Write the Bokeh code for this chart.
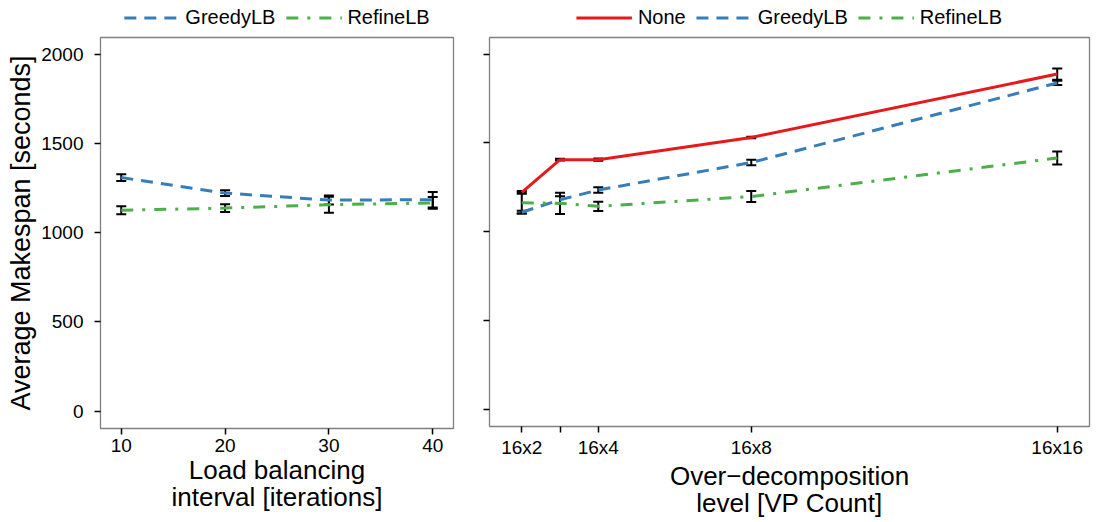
from bokeh.plotting import figure
from bokeh.layouts import row, column
from bokeh.models import (Whisker, TeeHead, ColumnDataSource, Legend, LegendItem,
                          Range1d, FixedTicker, CustomJSTickFormatter)
from bokeh.embed import file_html
from bokeh.resources import INLINE

# ---------------- data ----------------
intervals = [10, 20, 30, 40]
greedy_left = [1309, 1222, 1183, 1185]
greedy_left_err = [19, 16, 25, 43]
refine_left = [1126, 1138, 1157, 1167]
refine_left_err = [22, 22, 45, 33]

vp_counts = [32, 48, 64, 128, 256]
vp_labels = ["16x2", "", "16x4", "16x8", "16x16"]
none_right = [1222, 1406, 1406, 1531, 1888]
none_right_err = [8, 5, 6, 4, 32]
greedy_right = [1110, 1180, 1235, 1390, 1838]
greedy_right_err = [8, 20, 15, 16, 12]
refine_right = [1163, 1160, 1143, 1198, 1415]
refine_right_err = [60, 60, 26, 31, 37]

y_ticks = [0, 500, 1000, 1500, 2000]

RED = "#E41A1C"
BLUE = "#377EB8"
GREEN = "#4DAF4A"
FONT = "Liberation Sans"
DASH_NONE = "solid"
DASH_GREEDY = "12 8"
DASH_REFINE = "12 9 3 9"

LEG_H = 30
H = 490
TOP = 7
BOTTOM = 92
NAN = float("nan")


def style(p):
    p.xgrid.visible = False
    p.ygrid.visible = False
    p.outline_line_color = "#7f7f7f"
    p.outline_line_width = 1.3
    p.background_fill_color = "white"
    p.border_fill_color = "white"
    for ax in (p.xaxis[0], p.yaxis[0]):
        ax.axis_line_color = None
        ax.major_tick_in = 0
        ax.major_tick_out = 6
        ax.major_tick_line_color = "black"
        ax.major_tick_line_width = 1.5
        ax.minor_tick_line_color = None
        ax.major_label_text_font = FONT
        ax.major_label_text_font_size = "19px"
        ax.major_label_text_color = "black"
        ax.axis_label_text_font = FONT
        ax.axis_label_text_font_style = "normal"
        ax.axis_label_text_color = "black"
    p.xaxis.axis_label_text_font_size = "26px"
    p.xaxis.axis_label_text_line_height = 0.9
    p.yaxis.axis_label_text_font_size = "27px"
    p.xaxis.major_label_standoff = 4
    p.xaxis.axis_label_standoff = 0
    p.yaxis.major_label_standoff = 11
    p.yaxis.axis_label_standoff = 2


def errbars(p, xs, ys, errs):
    src = ColumnDataSource(dict(x=xs,
                                upper=[y + e for y, e in zip(ys, errs)],
                                lower=[y - e for y, e in zip(ys, errs)]))
    w = Whisker(base="x", upper="upper", lower="lower", source=src,
                line_color="black", line_width=2,
                upper_head=TeeHead(size=10, line_width=2, line_color="black"),
                lower_head=TeeHead(size=10, line_width=2, line_color="black"))
    p.add_layout(w)


def legend_fig(width, border_left, border_right, entries):
    lf = figure(width=width, height=LEG_H, output_backend="svg", toolbar_location=None,
                x_range=Range1d(0, 1), y_range=Range1d(0, 1),
                x_axis_location=None, y_axis_location=None,
                min_border_left=border_left, min_border_right=border_right,
                min_border_top=4, min_border_bottom=0)
    lf.grid.visible = False
    lf.outline_line_color = None
    lf.background_fill_color = "white"
    lf.border_fill_color = "white"
    items = []
    for label, color, dash in entries:
        r = lf.line(x=[NAN, NAN], y=[NAN, NAN], line_color=color, line_width=3,
                    line_dash=dash)
        items.append(LegendItem(label=label, renderers=[r]))
    leg = Legend(items=items, orientation="horizontal", location="center",
                 label_text_font=FONT, label_text_font_size="20px",
                 label_text_color="black", label_height=20,
                 glyph_width=56, glyph_height=20, label_standoff=6, spacing=10,
                 padding=0, margin=0, border_line_color=None,
                 background_fill_alpha=0)
    lf.add_layout(leg, "center")
    return lf


# ---------------- left panel ----------------
p1 = figure(width=462, height=H, output_backend="svg", toolbar_location=None,
            x_range=Range1d(8, 42), y_range=Range1d(-97, 2094),
            min_border_left=100, min_border_right=9, min_border_top=TOP,
            min_border_bottom=BOTTOM)
style(p1)
p1.xaxis.ticker = FixedTicker(ticks=intervals)
p1.yaxis.ticker = FixedTicker(ticks=y_ticks)
p1.xaxis.axis_label = "Load balancing\ninterval [iterations]"
p1.yaxis.axis_label = "Average Makespan [seconds]"

p1.line(intervals, greedy_left, line_color=BLUE, line_width=3, line_dash=DASH_GREEDY)
p1.line(intervals, refine_left, line_color=GREEN, line_width=3, line_dash=DASH_REFINE)
errbars(p1, intervals, greedy_left, greedy_left_err)
errbars(p1, intervals, refine_left, refine_left_err)
l1 = legend_fig(462, 100, 9, [("GreedyLB", BLUE, DASH_GREEDY),
                              ("RefineLB", GREEN, DASH_REFINE)])

# ---------------- right panel ----------------
p2 = figure(width=633, height=H, output_backend="svg", toolbar_location=None,
            x_range=Range1d(18.5, 269.5), y_range=Range1d(-97, 2094),
            min_border_left=27, min_border_right=6, min_border_top=TOP,
            min_border_bottom=BOTTOM)
style(p2)
p2.xaxis.ticker = FixedTicker(ticks=vp_counts)
p2.xaxis.major_label_overrides = {v: l for v, l in zip(vp_counts, vp_labels)}
p2.yaxis.ticker = FixedTicker(ticks=y_ticks)
p2.yaxis.formatter = CustomJSTickFormatter(code="return ''")
p2.xaxis.axis_label = "Over\u2212decomposition\nlevel [VP Count]"

p2.line(vp_counts, none_right, line_color=RED, line_width=3)
p2.line(vp_counts, greedy_right, line_color=BLUE, line_width=3, line_dash=DASH_GREEDY)
p2.line(vp_counts, refine_right, line_color=GREEN, line_width=3, line_dash=DASH_REFINE)
errbars(p2, vp_counts, none_right, none_right_err)
errbars(p2, vp_counts, greedy_right, greedy_right_err)
errbars(p2, vp_counts, refine_right, refine_right_err)
l2 = legend_fig(633, 27, 6, [("None", RED, DASH_NONE),
                             ("GreedyLB", BLUE, DASH_GREEDY),
                             ("RefineLB", GREEN, DASH_REFINE)])

layout = row(column(l1, p1), column(l2, p2))
open("out.html", "w").write(file_html(layout, INLINE))
